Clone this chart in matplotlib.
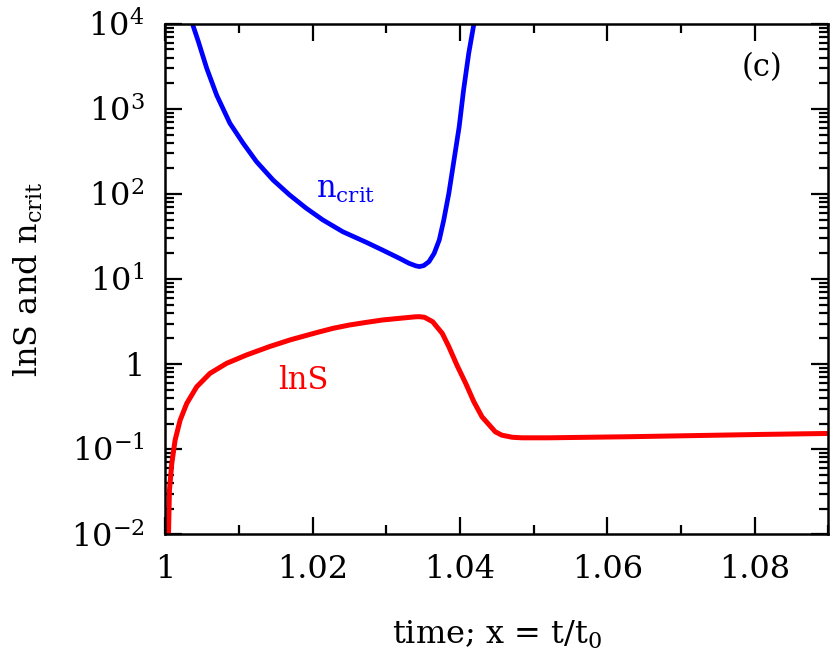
import matplotlib
matplotlib.use('Agg', force=True)

import numpy as np
import matplotlib.pyplot as plt
from matplotlib.ticker import FuncFormatter, LogLocator, MultipleLocator

plt.rcParams['font.family'] = ['DejaVu Serif']
plt.rcParams['mathtext.fontset'] = 'dejavuserif'
plt.rcParams['mathtext.default'] = 'regular'

# ---- data ----
# n_crit (blue)
x_ncrit = [1.0037, 1.0045, 1.00564, 1.00699, 1.00878, 1.01058, 1.01239, 1.01464,
           1.01689, 1.01915, 1.0214, 1.0241, 1.0273, 1.0295, 1.0318, 1.0331,
           1.0340, 1.0345, 1.0351, 1.0358, 1.0365, 1.0372, 1.0378, 1.0385,
           1.0392, 1.0399, 1.0405, 1.0412, 1.0419]
y_ncrit = [10000, 6200, 3000, 1450, 679, 395, 240, 146,
           97.3, 67.9, 49.5, 36.0, 27.0, 21.9, 17.5, 15.3,
           14.3, 14.0, 14.4, 16.0, 20.0, 28.8, 49.0, 102,
           251, 617, 1675, 4520, 10000]

# lnS (red)
x_lns = [1.00045, 1.00058, 1.0009, 1.00135, 1.00203, 1.00293, 1.00428, 1.00608,
         1.00833, 1.01104, 1.01419, 1.0170, 1.0205, 1.02275, 1.0250, 1.02725,
         1.0295, 1.03176, 1.0340, 1.0345, 1.0352, 1.0363, 1.0376, 1.0385,
         1.0396, 1.0408, 1.0419, 1.0430, 1.0448, 1.0457, 1.0471, 1.0484,
         1.0520, 1.0628, 1.0809, 1.0900]
y_lns = [0.010, 0.033, 0.068, 0.128, 0.219, 0.345, 0.541, 0.778,
         1.02, 1.28, 1.61, 1.93, 2.34, 2.63, 2.88, 3.09,
         3.30, 3.45, 3.60, 3.61, 3.55, 3.15, 2.30, 1.60,
         0.97, 0.59, 0.36, 0.24, 0.16, 0.146, 0.138, 0.136,
         0.136, 0.140, 0.149, 0.153]

xticks = [1.0, 1.02, 1.04, 1.06, 1.08]

# ---- figure ----
fig = plt.figure(figsize=(8.3, 6.62), dpi=100)
ax = fig.add_axes([0.199, 0.193, 0.799, 0.771])

ax.plot(x_ncrit, y_ncrit, color='#0000ff', lw=3.4, solid_capstyle='round',
        solid_joinstyle='round')
ax.plot(x_lns, y_lns, color='#ff0000', lw=3.6, solid_capstyle='round',
        solid_joinstyle='round')

ax.set_yscale('log')
ax.set_xlim(1.0, 1.09)
ax.set_ylim(1e-2, 1e4)

ax.set_xticks(xticks)
ax.xaxis.set_minor_locator(MultipleLocator(0.01))
ax.xaxis.set_major_formatter(FuncFormatter(lambda v, p: '%g' % v))
ax.yaxis.set_major_locator(LogLocator(base=10, numticks=20))
ax.yaxis.set_minor_locator(LogLocator(base=10, subs=np.arange(2, 10), numticks=20))


def yfmt(v, p):
    e = int(round(np.log10(v)))
    if e == 0:
        return '1'
    return r'$10^{%d}$' % e


ax.yaxis.set_major_formatter(FuncFormatter(yfmt))

for s in ax.spines.values():
    s.set_linewidth(1.8)
ax.tick_params(which='both', direction='in', top=True, right=True, width=1.6)
ax.tick_params(which='major', length=12.5, labelsize=23)
ax.tick_params(axis='x', which='major', pad=14)
ax.tick_params(axis='y', which='major', pad=15)
ax.tick_params(which='minor', length=6.5)

ax.set_xlabel(r'time; x = t/t$_0$', fontsize=23)
ax.set_ylabel(r'lnS and n$_{\rm crit}$', fontsize=23)
ax.xaxis.set_label_coords(0.5, -0.165)
ax.yaxis.set_label_coords(-0.181, 0.5)

ax.text(1.0205, 10**2.05, r'n$_{\rm crit}$', color='#0000ff', fontsize=22,
        ha='left', va='center')
ax.text(1.0153, 10**-0.19, 'lnS', color='#ff0000', fontsize=22,
        ha='left', va='center')
ax.text(0.90, 0.914, '(c)', transform=ax.transAxes, fontsize=22,
        ha='center', va='center')

fig.savefig('out.png', dpi=100)
